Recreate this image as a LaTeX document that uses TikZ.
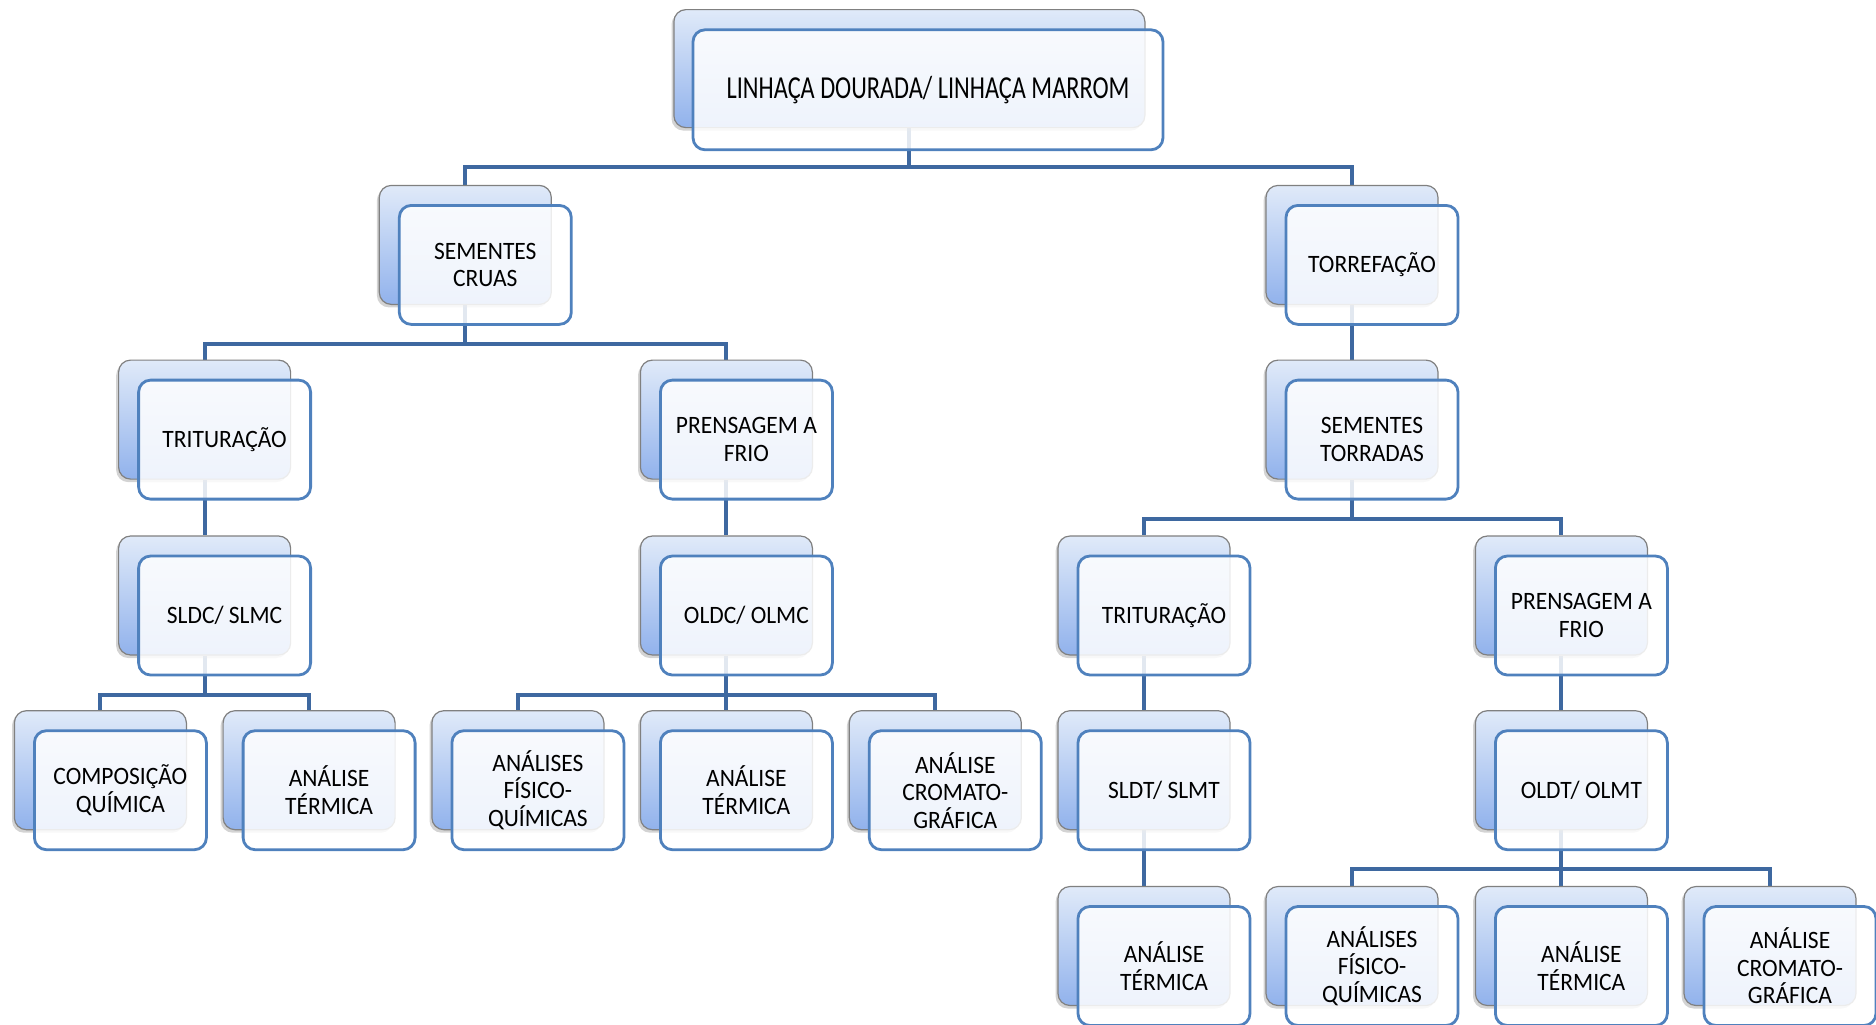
\documentclass[tikz,border=0pt]{standalone}
\usepackage{fontspec}
\setmainfont{Carlito}
\newfontfamily\boxfont[FakeStretch=0.94]{Carlito}
\newfontfamily\rootfont[FakeStretch=0.76]{Carlito}
\usetikzlibrary{shadows}
\definecolor{linecol}{RGB}{62,104,160}
\definecolor{frontline}{RGB}{79,129,189}
\definecolor{backtop}{RGB}{224,234,249}
\definecolor{backbot}{RGB}{145,178,236}
\definecolor{backline}{RGB}{128,128,128}
\pgfdeclarelayer{bg}
\pgfsetlayers{bg,main}
\tikzset{
 backbox/.style={draw=backline, line width=0.6pt, rounded corners=6pt, top color=backtop, bottom color=backbot, minimum width=86pt, minimum height=59.5pt, inner sep=0pt, drop shadow={shadow xshift=-1.2pt, shadow yshift=-1.5pt, opacity=0.35}},
 frontbox/.style={draw=frontline, line width=1.4pt, rounded corners=6pt, fill=white, fill opacity=0.85, text opacity=1, minimum width=86pt, minimum height=59.5pt, inner sep=0pt, align=center, font=\boxfont\fontsize{12.5}{13.75}\selectfont, text=black},
 conn/.style={draw=linecol, line width=2pt},
}
\newcommand\tbox[4]{%
 \node[backbox] (#1-b) at ({#2+86},{#3+59.5}) {};
 \node[frontbox] (#1) at ({#2+106},{#3+79.5}) {#4};}
\begin{document}
\begin{tikzpicture}[x=0.5pt,y=-0.5pt]
\useasboundingbox (0,0) rectangle (1876,1024);
\clip (0,0) rectangle (1876,1024);
% root
\node[backbox, minimum width=235.5pt, minimum height=59pt] (root-b) at (909.4,68.6) {};
\node[frontbox, minimum width=235pt, minimum height=60pt, font=\rootfont\fontsize{16}{18}\selectfont] (root) at (928,89.8) {LINHAÇA DOURADA/ LINHAÇA MARROM};
% level 1
\tbox{sc}{379.3}{185.4}{SEMENTES\\CRUAS}
\tbox{tor}{1266}{185.4}{TORREFAÇÃO}
% level 2
\tbox{tri1}{118.6}{360.1}{TRITURAÇÃO}
\tbox{pre1}{640.4}{360.1}{PRENSAGEM A\\FRIO}
\tbox{st}{1266}{360.1}{SEMENTES\\TORRADAS}
% level 3
\tbox{sldc}{118.6}{536}{SLDC/ SLMC}
\tbox{oldc}{640.4}{536}{OLDC/ OLMC}
\tbox{tri2}{1058}{536}{TRITURAÇÃO}
\tbox{pre2}{1475.4}{536}{PRENSAGEM A\\FRIO}
% level 4
\tbox{cq}{14.4}{710.7}{COMPOSIÇÃO\\QUÍMICA}
\tbox{at1}{223.1}{710.7}{ANÁLISE\\TÉRMICA}
\tbox{afq1}{431.9}{710.7}{ANÁLISES\\FÍSICO-\\QUÍMICAS}
\tbox{at2}{640.4}{710.7}{ANÁLISE\\TÉRMICA}
\tbox{acg1}{849.3}{710.7}{ANÁLISE\\CROMATO-\\GRÁFICA}
\tbox{sldt}{1058}{710.7}{SLDT/ SLMT}
\tbox{oldt}{1475.4}{710.7}{OLDT/ OLMT}
% level 5
\tbox{at3}{1058}{886.5}{ANÁLISE\\TÉRMICA}
\tbox{afq2}{1266}{886.5}{ANÁLISES\\FÍSICO-\\QUÍMICAS}
\tbox{at4}{1475.4}{886.5}{ANÁLISE\\TÉRMICA}
\tbox{acg2}{1684}{886.5}{ANÁLISE\\CROMATO-\\GRÁFICA}
\begin{pgfonlayer}{bg}
\foreach \p/\c in {root/sc, root/tor, sc/tri1, sc/pre1, st/tri2, st/pre2, sldc/cq, sldc/at1, oldc/afq1, oldc/at2, oldc/acg1, oldt/afq2, oldt/at4, oldt/acg2}
  \draw[conn] (\p-b.south) -- ++(0,39) -| (\c-b.north);
\foreach \p/\c in {tor/st, tri1/sldc, pre1/oldc, tri2/sldt, pre2/oldt, sldt/at3}
  \draw[conn] (\p-b.south) -- (\c-b.north);
\end{pgfonlayer}
\end{tikzpicture}
\end{document}
